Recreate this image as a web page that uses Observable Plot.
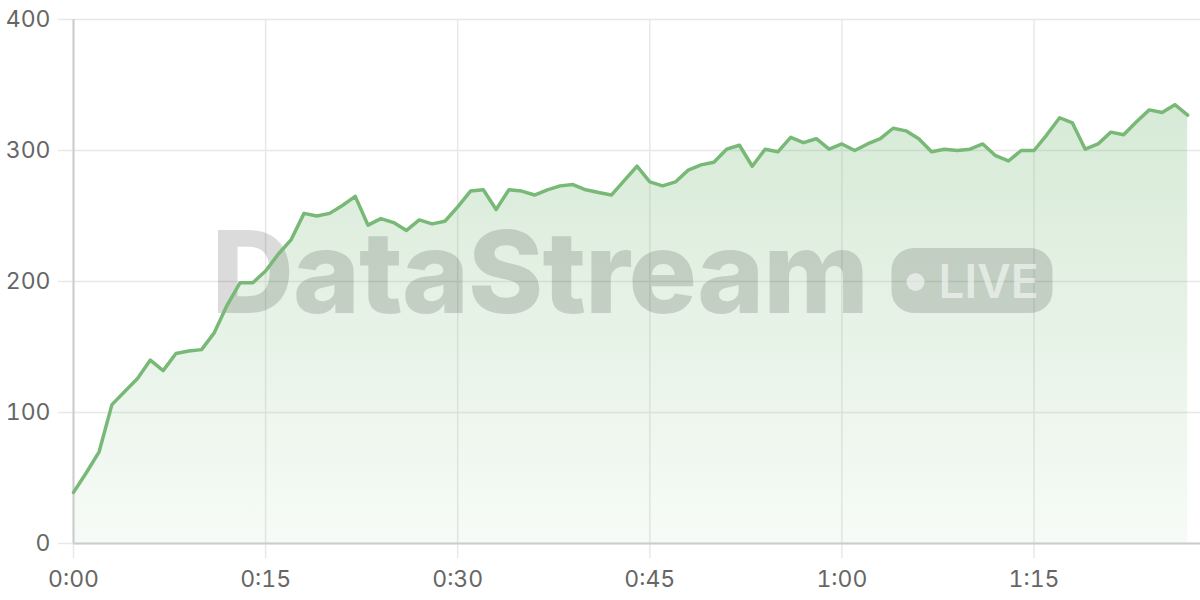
<!DOCTYPE html>
<html>
<head>
<meta charset="utf-8">
<script src="https://cdn.jsdelivr.net/npm/d3@7"></script>
<script src="https://cdn.jsdelivr.net/npm/@observablehq/plot@0.6"></script>
<style>
  html, body { margin: 0; padding: 0; background: #fff; }
  #chart { width: 1200px; height: 600px; }
  svg { font-family: Inter, "Noto Sans", sans-serif; }
</style>
</head>
<body>
<div id="chart"></div>
<script>
// ---- data ----
const minutes = d3.range(0, 88);
const values = [
  39, 54, 70, 106, 116, 126, 140, 132, 145, 147,
  148, 161, 182, 199, 199, 208, 221, 232, 252, 250,
  252, 258, 265, 243, 248, 245, 239, 247, 244, 246,
  257, 269, 270, 255, 270, 269, 266, 270, 273, 274,
  270, 268, 266, 277, 288, 276, 273, 276, 285, 289,
  291, 301, 304, 288, 301, 299, 310, 306, 309, 301,
  305, 300, 305, 309, 317, 315, 309, 299, 301, 300,
  301, 305, 296, 292, 300, 300, 312, 325, 321, 301,
  305, 314, 312, 322, 331, 329, 335, 327
];
const xTicks = [0, 15, 30, 45, 60, 75];
const xTickLabels = ["0:00", "0:15", "0:30", "0:45", "1:00", "1:15"];
const yTicks = [0, 100, 200, 300, 400];
const watermarkText = "DataStream";
const badgeText = "LIVE";

const data = minutes.map((m, i) => ({ m, v: values[i] }));

const lineColor = "#78b977";
const gridColor = "#e8e8e8";
const axisColor = "#cccccc";
const labelColor = "#666666";

// watermark as a custom Plot mark (drawn between area and line)
function watermark(index, scales, vals, dims) {
  const ns = "http://www.w3.org/2000/svg";
  const cx = (dims.marginLeft + dims.width - dims.marginRight) / 2;
  const cy = (dims.marginTop + dims.height - dims.marginBottom) / 2;
  const g = document.createElementNS(ns, "g");
  g.setAttribute("text-anchor", "start");
  const t = document.createElementNS(ns, "text");
  t.setAttribute("x", cx - 425);
  t.setAttribute("y", cy + 32);
  t.setAttribute("text-anchor", "start");
  t.setAttribute("font-size", 114);
  t.setAttribute("font-weight", 800);
  t.setAttribute("font-family", "Inter, sans-serif");
  t.setAttribute("letter-spacing", "-1");
  t.setAttribute("fill", "#000");
  t.setAttribute("fill-opacity", 0.14);
  t.textContent = watermarkText;
  g.appendChild(t);
  const r = document.createElementNS(ns, "rect");
  r.setAttribute("x", cx + 255);
  r.setAttribute("y", cy - 33);
  r.setAttribute("width", 161);
  r.setAttribute("height", 65);
  r.setAttribute("rx", 22);
  r.setAttribute("fill", "#000");
  r.setAttribute("fill-opacity", 0.14);
  g.appendChild(r);
  const c = document.createElementNS(ns, "circle");
  c.setAttribute("cx", cx + 279);
  c.setAttribute("cy", cy + 1);
  c.setAttribute("r", 9);
  c.setAttribute("fill", "#fff");
  c.setAttribute("fill-opacity", 0.55);
  g.appendChild(c);
  const lt = document.createElementNS(ns, "text");
  lt.setAttribute("x", cx + 302);
  lt.setAttribute("y", cy + 17);
  lt.setAttribute("text-anchor", "start");
  lt.setAttribute("font-size", 46);
  lt.setAttribute("font-weight", 600);
  lt.setAttribute("font-family", "Inter, sans-serif");
  lt.setAttribute("fill", "#fff");
  lt.setAttribute("fill-opacity", 0.55);
  lt.textContent = badgeText;
  g.appendChild(lt);
  return g;
}

const chart = Plot.plot({
  width: 1200,
  height: 600,
  marginLeft: 73,
  marginRight: 0,
  marginTop: 19,
  marginBottom: 57,
  style: { fontFamily: "Inter, sans-serif", background: "#fff" },
  x: { domain: [0, 88] },
  y: { domain: [0, 400] },
  marks: [
    Plot.gridY(yTicks, { stroke: gridColor, strokeOpacity: 1, strokeWidth: 1.5 }),
    Plot.gridX(xTicks, { stroke: gridColor, strokeOpacity: 1, strokeWidth: 1.5 }),
    Plot.areaY(data, { x: "m", y: "v", fill: "url(#areaGrad)" }),
    watermark,
    Plot.axisY(yTicks, {
      tickSize: 15, tickPadding: 8, stroke: gridColor, strokeOpacity: 1, strokeWidth: 1.5,
      fontSize: 23, fill: labelColor, label: null
    }),
    Plot.axisX(xTicks, {
      tickSize: 15, tickPadding: 12, stroke: gridColor, strokeOpacity: 1, strokeWidth: 1.5,
      fontSize: 23, fill: labelColor, label: null,
      tickFormat: (d) => xTickLabels[xTicks.indexOf(d)]
    }),
    Plot.ruleX([0], { stroke: axisColor, strokeWidth: 2 }),
    Plot.ruleY([0], { stroke: axisColor, strokeWidth: 2 }),
    Plot.line(data, { x: "m", y: "v", stroke: lineColor, strokeWidth: 3.5, strokeLinejoin: "round", strokeLinecap: "round" })
  ]
});

// gradient definition for the area fill
const ns = "http://www.w3.org/2000/svg";
const defs = document.createElementNS(ns, "defs");
defs.innerHTML = `<linearGradient id="areaGrad" x1="0" y1="0" x2="0" y2="1">
  <stop offset="0" stop-color="${lineColor}" stop-opacity="0.30"/>
  <stop offset="1" stop-color="${lineColor}" stop-opacity="0.06"/>
</linearGradient>`;
chart.insertBefore(defs, chart.firstChild);

document.getElementById("chart").appendChild(chart);
</script>
</body>
</html>
